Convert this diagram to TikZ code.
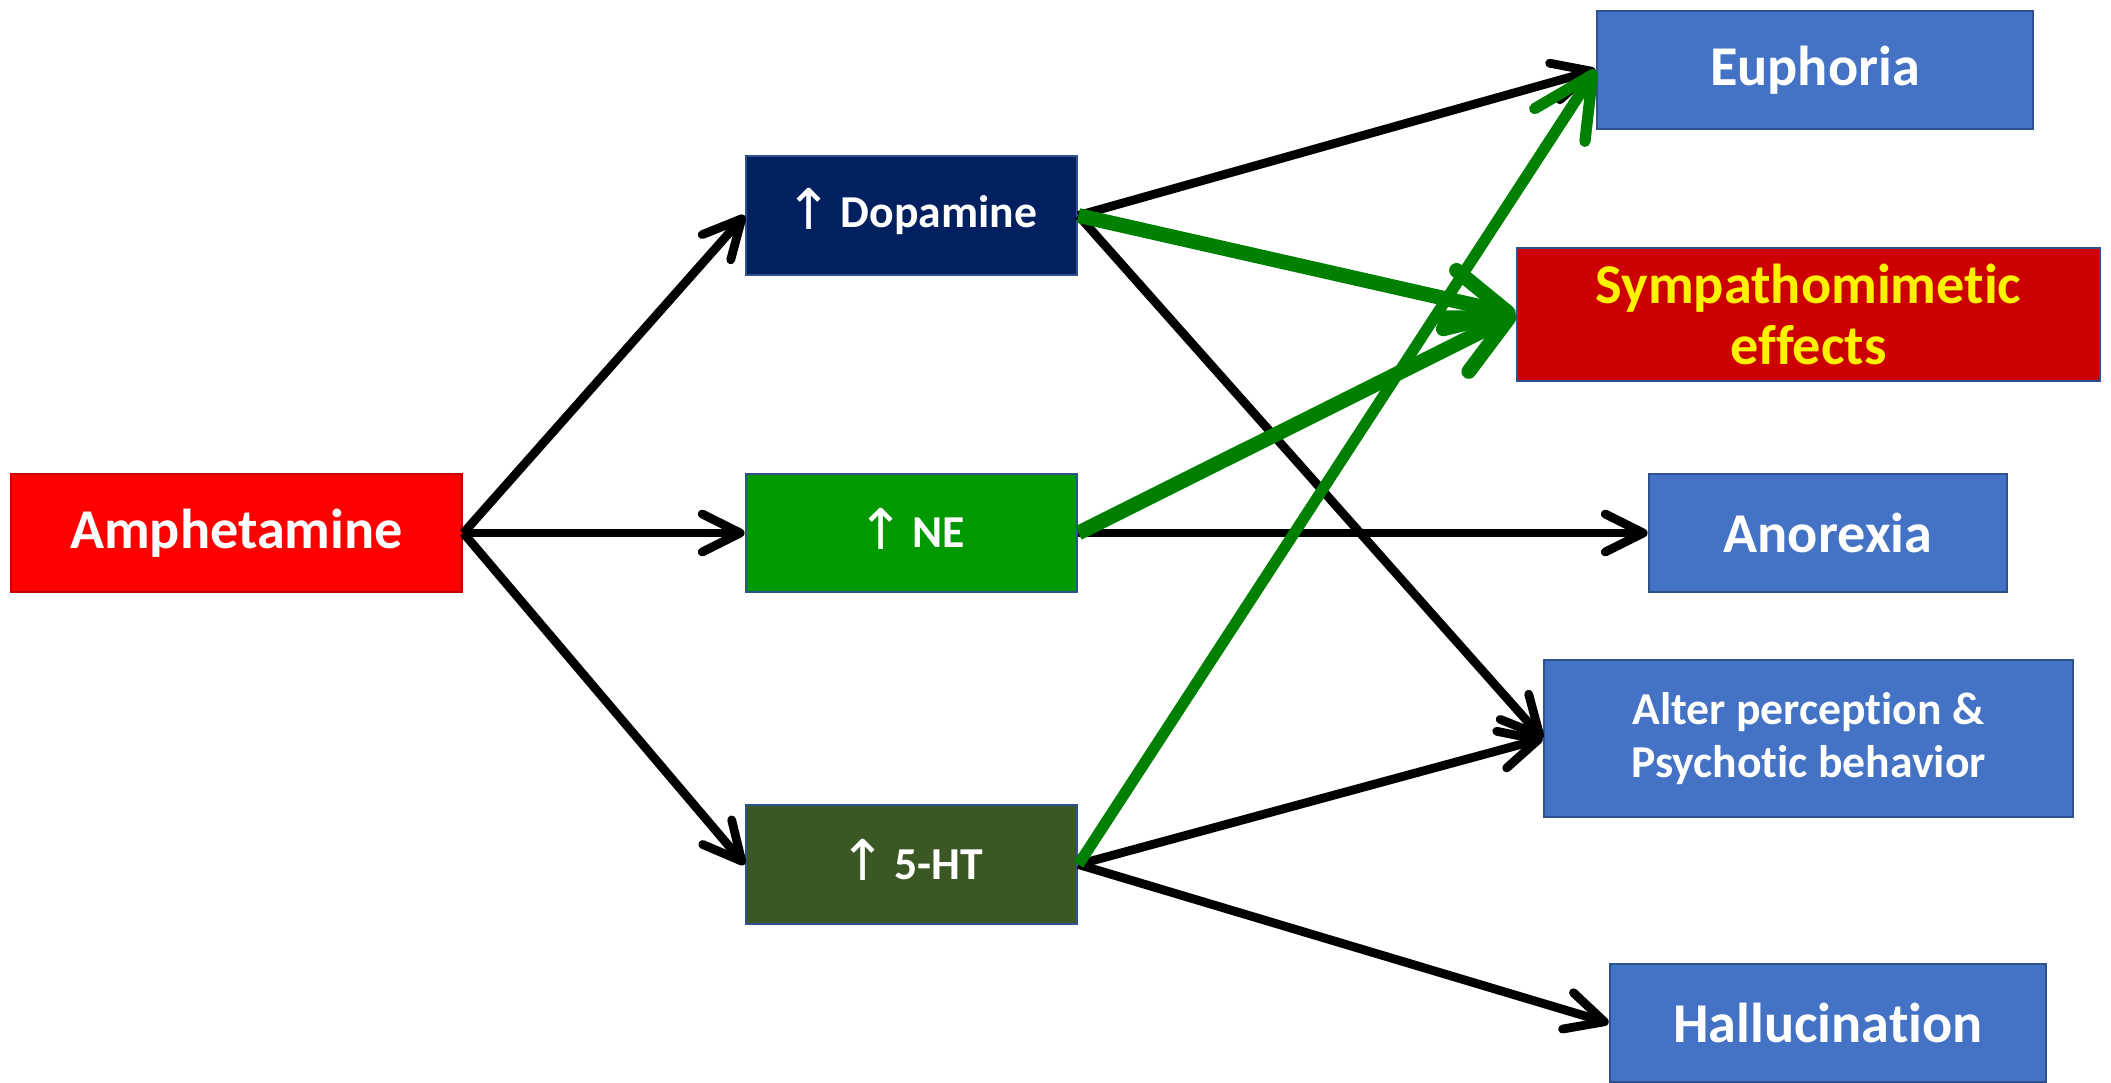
\documentclass[tikz,border=0pt]{standalone}
\usepackage{fontspec}
\setmainfont{Carlito}[Ligatures=NoCommon]
\newfontfamily\arrowfont{DejaVu Sans}
\usetikzlibrary{positioning}
\usetikzlibrary{arrows.meta}

\definecolor{amphred}{RGB}{255,0,0}
\definecolor{amphline}{RGB}{192,0,0}
\definecolor{dopablue}{RGB}{0,32,96}
\definecolor{negreen}{RGB}{0,153,0}
\definecolor{htgreen}{RGB}{59,87,35}
\definecolor{effblue}{RGB}{68,114,196}
\definecolor{effline}{RGB}{47,82,143}
\definecolor{sympred}{RGB}{204,0,0}
\definecolor{arrgreen}{RGB}{0,128,0}

\newcommand{\up}{\smash{\raisebox{-0.5pt}{\arrowfont\mdseries\fontsize{16}{16}\selectfont\char"2191}}\,}

\tikzset{
  box/.style={draw=effline, line width=0.8pt, text=white, align=center,
    font=\bfseries, inner sep=0pt},
  bigbox/.style={box, font=\fontsize{16}{17.6}\selectfont\bfseries},
  smallbox/.style={box, font=\fontsize{13}{15}\selectfont\bfseries},
  blk/.style={line width=2.5pt, -{Straight Barb[length=3.8mm,width=3.8mm,round]}},
  grn/.style={draw=arrgreen, line width=4.2pt, -{Straight Barb[length=6mm,width=6mm,round]}}
}

\begin{document}
\begin{tikzpicture}
    \useasboundingbox (0,0) rectangle (21.11,-10.83);

    \node[bigbox, fill=amphred, draw=amphline, minimum width=4.51cm, minimum height=1.18cm] (amph) at (2.365,-5.33) {Amphetamine};

    \node[smallbox, fill=dopablue, minimum width=3.31cm, minimum height=1.19cm] (dopa) at (9.115,-2.155) {\up Dopamine};
    \node[smallbox, fill=negreen, minimum width=3.31cm, minimum height=1.18cm] (ne) at (9.115,-5.33) {\up NE};
    \node[smallbox, fill=htgreen, minimum width=3.31cm, minimum height=1.19cm] (ht) at (9.115,-8.645) {\up 5-HT};

    \node[bigbox, fill=effblue, minimum width=4.36cm, minimum height=1.18cm] (euph) at (18.15,-0.70) {Euphoria};
    \node[bigbox, fill=sympred, text=yellow, minimum width=5.83cm, minimum height=1.33cm] (symp) at (18.085,-3.145) {Sympathomimetic\\effects};
    \node[bigbox, fill=effblue, minimum width=3.58cm, minimum height=1.18cm] (anor) at (18.28,-5.33) {Anorexia};
    \node[smallbox, fill=effblue, minimum width=5.29cm, minimum height=1.57cm] (alter) at (18.085,-7.385) {Alter perception \&\\Psychotic behavior};
    \node[bigbox, fill=effblue, minimum width=4.36cm, minimum height=1.18cm] (hall) at (18.28,-10.23) {Hallucination};

    % from amphetamine
    \draw[blk] (amph.east) -- (dopa.west);
    \draw[blk] (amph.east) -- (ne.west);
    \draw[blk] (amph.east) -- (ht.west);

    % to the effects
    \draw[blk] (dopa.east) -- (euph.west);
    \draw[blk] (dopa.east) -- (alter.west);
    \draw[blk] (ne.east) -- (anor.west);
    \draw[blk] (ht.east) -- (alter.west);
    \draw[blk] (ht.east) -- (hall.west);

    \draw[grn] (dopa.east) -- (symp.west);
    \draw[grn] (ne.east) -- (symp.west);
    \draw[grn, line width=3.2pt] (ht.east) -- (euph.west);

\end{tikzpicture}
\end{document}
